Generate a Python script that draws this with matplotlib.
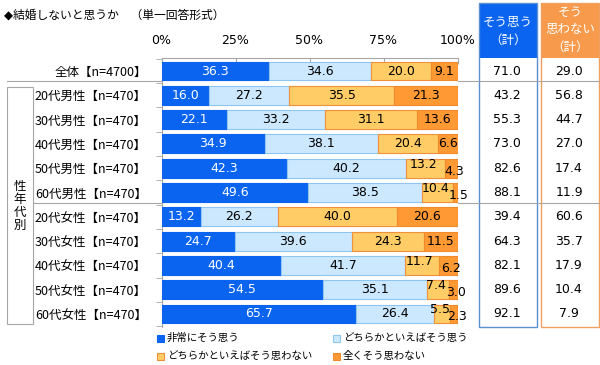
import matplotlib
matplotlib.use("Agg")
import matplotlib.pyplot as plt
import matplotlib.transforms as mtrans
from matplotlib.patches import Rectangle
import numpy as np

plt.rcParams['font.family'] = ['DejaVu Sans', 'Noto Sans CJK JP']

# ---------------- data ----------------
title = "◆結婚しないと思うか　（単一回答形式）"
categories = ['全体【n=4700】',
              '20代男性【n=470】', '30代男性【n=470】', '40代男性【n=470】',
              '50代男性【n=470】', '60代男性【n=470】',
              '20代女性【n=470】', '30代女性【n=470】', '40代女性【n=470】',
              '50代女性【n=470】', '60代女性【n=470】']
series_names = ['非常にそう思う', 'どちらかといえばそう思う',
                'どちらかといえばそう思わない', '全くそう思わない']
very_yes = [36.3, 16.0, 22.1, 34.9, 42.3, 49.6, 13.2, 24.7, 40.4, 54.5, 65.7]
some_yes = [34.6, 27.2, 33.2, 38.1, 40.2, 38.5, 26.2, 39.6, 41.7, 35.1, 26.4]
some_no = [20.0, 35.5, 31.1, 20.4, 13.2, 10.4, 40.0, 24.3, 11.7, 7.4, 5.5]
never = [9.1, 21.3, 13.6, 6.6, 4.3, 1.5, 20.6, 11.5, 6.2, 3.0, 2.3]
total_yes = [71.0, 43.2, 55.3, 73.0, 82.6, 88.1, 39.4, 64.3, 82.1, 89.6, 92.1]
total_no = [29.0, 56.8, 44.7, 27.0, 17.4, 11.9, 60.6, 35.7, 17.9, 10.4, 7.9]
xtick_vals = [0, 25, 50, 75, 100]
xtick_labels = ['0%', '25%', '50%', '75%', '100%']
group_label = '性\n年\n代\n別'
hdr_yes = ['そう思う', '（計）']
hdr_no = ['そう', '思わない', '（計）']

# ---------------- styles ----------------
faces = ['#0A64F0', '#CCE8FF', '#FFCC66', '#FF9933']
edges = ['#0A64F0', '#8FC6F0', '#F0903C', '#F08A2C']
txtcol = ['white', 'black', 'black', 'black']
W, H = 600, 365
grey = '#A6A6A6'
FS = 9
CJK = ['Noto Sans CJK JP', 'DejaVu Sans']

fig = plt.figure(figsize=(W / 100, H / 100), dpi=100)

# overlay in pixel coordinates
ov = fig.add_axes([0, 0, 1, 1], zorder=0)
ov.set_xlim(0, W)
ov.set_ylim(H, 0)
ov.axis('off')

# bar axes
top_px, bot_px, left_px, right_px = 58, 327, 161.5, 457.5
ax = fig.add_axes([left_px / W, 1 - bot_px / H, (right_px - left_px) / W,
                   (bot_px - top_px) / H], zorder=2)
ax.patch.set_alpha(0)
n = len(categories)
y = np.arange(n)
ax.set_ylim(10.535, -0.535)
ax.set_xlim(0, 100)

data = [very_yes, some_yes, some_no, never]
left = np.zeros(n)
for k, vals in enumerate(data):
    ax.barh(y, vals, left=left, height=0.78, color=faces[k],
            edgecolor=edges[k], linewidth=0.8, zorder=3)
    vals = np.array(vals)
    for i in range(n):
        cx = left[i] + vals[i] / 2
        dx, dy = 0, 0
        crowded = (some_no[i] < 15 and never[i] < 5) or (some_no[i] < 12)
        if crowded and k == 2:
            dx, dy = -2, 4
        if crowded and k == 3:
            dx, dy = 3, -3
        ax.annotate(f"{vals[i]:.1f}", (cx, y[i]), xytext=(dx, dy),
                    textcoords='offset pixels', ha='center', va='center',
                    fontsize=FS, color=txtcol[k], zorder=5)
    left = left + vals

ax.xaxis.tick_top()
ax.set_xticks(xtick_vals)
ax.set_xticklabels(xtick_labels, fontsize=FS)
ax.tick_params(axis='x', direction='in', length=4, color=grey, pad=8)
ax.set_yticks(y)
ax.set_yticklabels(categories, fontsize=FS, family=CJK)
ax.tick_params(axis='y', length=0, pad=10.5)
ax.set_yticks(np.arange(n + 1) - 0.5, minor=True)
ax.tick_params(axis='y', which='minor', length=4, color=grey, direction='out')
for s in ['right', 'bottom']:
    ax.spines[s].set_visible(False)
for s in ['top', 'left']:
    ax.spines[s].set_color(grey)
    ax.spines[s].set_linewidth(0.8)

# title
ov.text(4, 15, title, fontsize=8.5, ha='left', va='center')

# separators
ov.plot([7, left_px], [81, 81], color=grey, lw=0.8)
ov.plot([right_px, W], [81, 81], color=grey, lw=0.8)
ov.plot([33, left_px], [203, 203], color=grey, lw=0.8)
ov.plot([right_px, W], [203, 203], color=grey, lw=0.8)

# group box
ov.add_patch(Rectangle((7, 87), 26, 237, fill=False, edgecolor=grey, lw=0.8))
ov.text(20, 206, group_label, fontsize=FS, ha='center', va='center',
        linespacing=1.0, family=['Noto Sans CJK JP'])

# summary columns
ov.add_patch(Rectangle((479, 3), 58, 55, facecolor='#0A64F0', edgecolor='#0A64F0', lw=0))
ov.add_patch(Rectangle((479, 3), 58, 324, fill=False, edgecolor='#5B8FD0', lw=1.0))
ov.add_patch(Rectangle((541, 3), 58, 55, facecolor='#F79A4C', edgecolor='#F79A4C', lw=0))
ov.add_patch(Rectangle((541, 3), 58, 324, fill=False, edgecolor='#F0A060', lw=1.0))
ov.text(508, 22, hdr_yes[0], color='white', fontsize=FS, ha='center', va='center')
ov.text(508, 40, hdr_yes[1], color='white', fontsize=FS, ha='center', va='center')
for t, yy in zip(hdr_no, [12, 29, 47]):
    ov.text(570, yy, t, color='white', fontsize=FS, ha='center', va='center')

blend = mtrans.blended_transform_factory(ov.transData, ax.transData)
for i in range(n):
    ov.text(507, y[i], f"{total_yes[i]:.1f}", transform=blend, fontsize=FS,
            ha='center', va='center')
    ov.text(569, y[i], f"{total_no[i]:.1f}", transform=blend, fontsize=FS,
            ha='center', va='center')

# legend (row-major 2x2)
leg_pos = [(157, 338), (333, 338), (157, 356), (333, 356)]
for k, (lx, ly) in enumerate(leg_pos):
    ov.add_patch(Rectangle((lx, ly - 3.5), 7, 7, facecolor=faces[k],
                           edgecolor=edges[k], lw=0.8))
    ov.text(lx + 10, ly, series_names[k], fontsize=7.5, ha='left', va='center',
            family=CJK)

fig.savefig('out.png', dpi=100)
